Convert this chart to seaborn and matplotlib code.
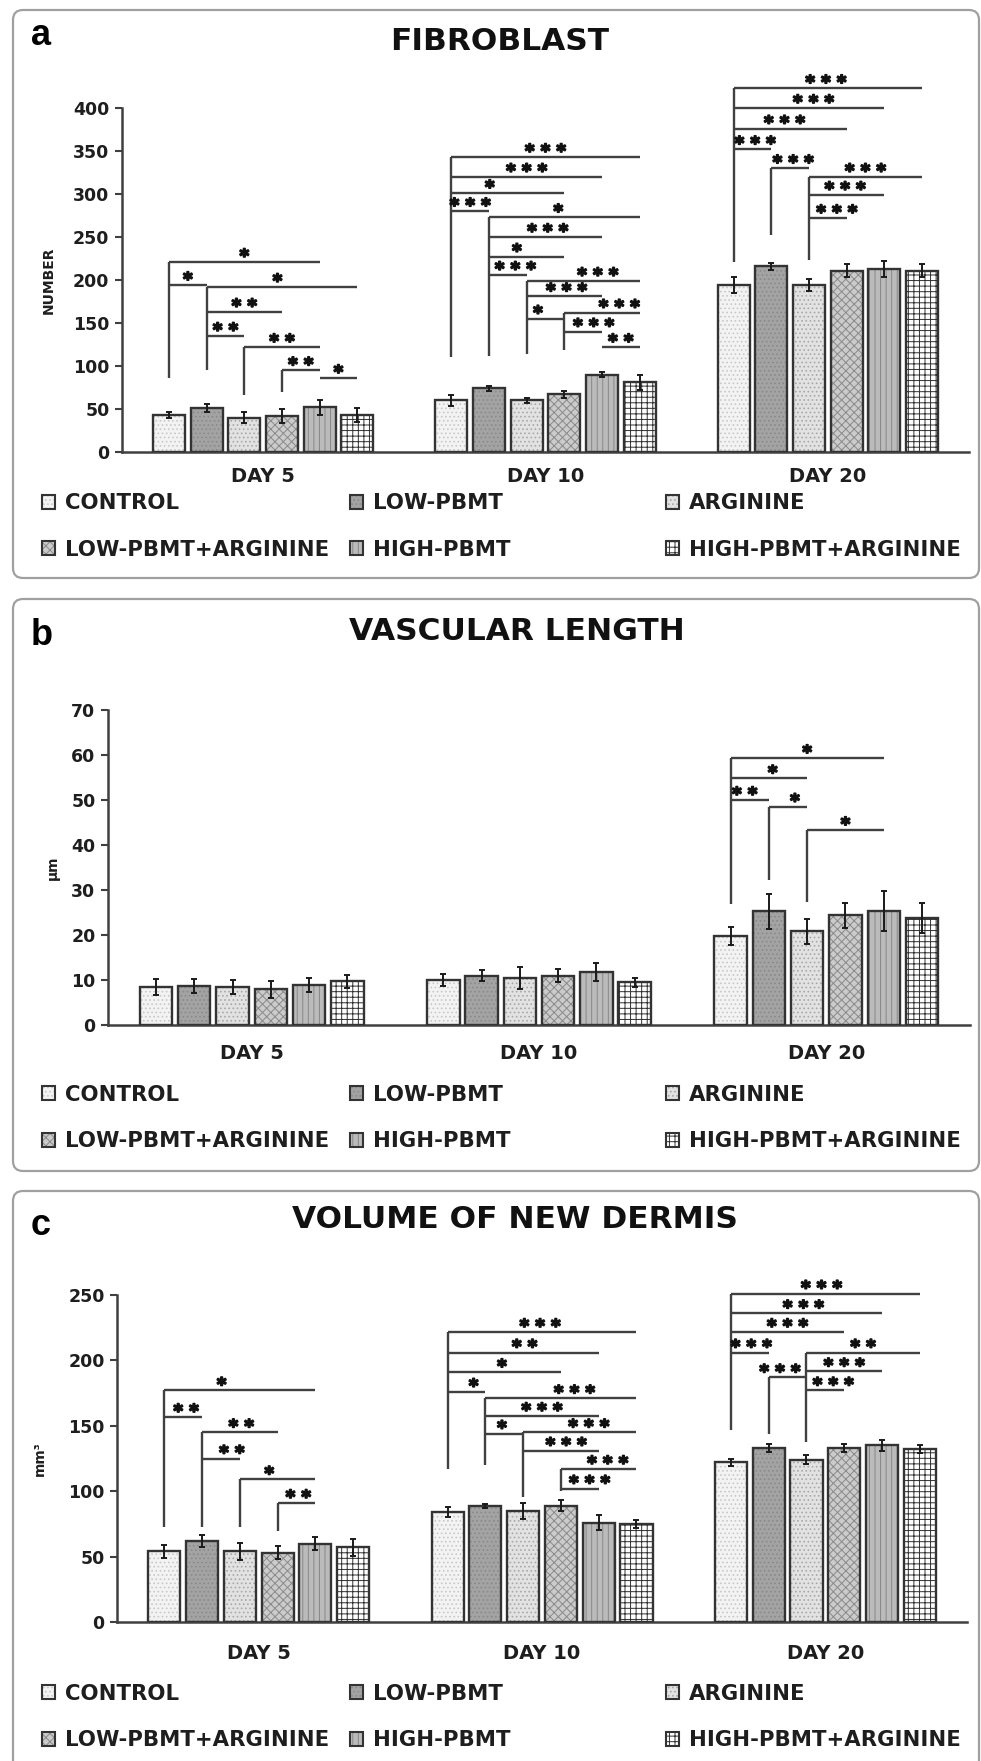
import numpy as np
import pandas as pd
import matplotlib
matplotlib.use("Agg")
import matplotlib.pyplot as plt
import matplotlib.patheffects as pe
import seaborn as sns
from matplotlib.patches import Rectangle, FancyBboxPatch, Patch

# ---------------- data ----------------
days = ["DAY 5", "DAY 10", "DAY 20"]
groups = ["CONTROL", "LOW-PBMT", "ARGININE", "LOW-PBMT+ARGININE", "HIGH-PBMT", "HIGH-PBMT+ARGININE"]

fib_day5 = [43, 51, 40, 42, 52, 43]
fib_day10 = [60, 74, 60, 67, 90, 81]
fib_day20 = [194, 216, 194, 211, 213, 211]
fib_err_day5 = [4, 5, 6, 8, 9, 8]
fib_err_day10 = [6, 3, 3, 4, 3, 9]
fib_err_day20 = [9, 4, 7, 8, 9, 8]

vas_day5 = [8.5, 8.7, 8.4, 7.9, 8.9, 9.7]
vas_day10 = [10.0, 11.0, 10.4, 11.0, 11.7, 9.5]
vas_day20 = [19.8, 25.3, 20.8, 24.4, 25.3, 23.8]
vas_err_day5 = [1.8, 1.5, 1.5, 1.9, 1.5, 1.4]
vas_err_day10 = [1.3, 1.3, 2.5, 1.5, 2.0, 1.0]
vas_err_day20 = [2.0, 3.9, 2.8, 2.8, 4.4, 3.3]

vol_day5 = [54, 62, 54, 53, 60, 57]
vol_day10 = [84, 89, 85, 89, 76, 75]
vol_day20 = [122, 133, 124, 133, 135, 132]
vol_err_day5 = [5, 4.5, 6.4, 5, 5, 6.6]
vol_err_day10 = [4, 1.5, 6, 4, 6, 3]
vol_err_day20 = [2.5, 3, 3.5, 3, 4, 3]

# significance brackets: (day, from_bar, to_bar, height, stars, star position along line)
fib_brackets = [
    (0, 0, 4, 221, "*", 0.5), (0, 0, 1, 194, "*", 0.5), (0, 1, 5, 192, "*", 0.47),
    (0, 1, 3, 163, "**", 0.5), (0, 1, 2, 135, "**", 0.5), (0, 2, 4, 122, "**", 0.5),
    (0, 3, 4, 95, "**", 0.5), (0, 4, 5, 86, "*", 0.5),
    (1, 0, 5, 343, "***", 0.5), (1, 0, 4, 320, "***", 0.5), (1, 0, 3, 301, "*", 0.34),
    (1, 0, 1, 280, "***", 0.5), (1, 1, 5, 273, "*", 0.46), (1, 1, 4, 250, "***", 0.52),
    (1, 1, 3, 227, "*", 0.37), (1, 1, 2, 206, "***", 0.7), (1, 2, 5, 199, "***", 0.63),
    (1, 2, 4, 181, "***", 0.53), (1, 2, 3, 155, "*", 0.3), (1, 3, 5, 162, "***", 0.73),
    (1, 3, 4, 140, "***", 0.78), (1, 4, 5, 122, "**", 0.5),
    (2, 0, 5, 423, "***", 0.49), (2, 0, 4, 400, "***", 0.53), (2, 0, 3, 376, "***", 0.45),
    (2, 0, 1, 352, "***", 0.57), (2, 1, 2, 330, "***", 0.58), (2, 2, 5, 320, "***", 0.5),
    (2, 2, 4, 299, "***", 0.48), (2, 2, 3, 272, "***", 0.74),
]
fib_stems = [(0, 0, 86), (0, 1, 95), (0, 2, 66), (0, 3, 70), (1, 0, 111), (1, 1, 112),
             (1, 2, 114), (1, 3, 119), (2, 0, 221), (2, 1, 252), (2, 2, 223)]

vas_brackets = [(2, 0, 4, 59.3, "*", 0.5), (2, 0, 2, 54.8, "*", 0.55), (2, 0, 1, 50.0, "**", 0.37),
                (2, 1, 2, 48.5, "*", 0.68), (2, 2, 4, 43.3, "*", 0.5)]
vas_stems = [(2, 0, 27.0), (2, 1, 32.2), (2, 2, 27.4)]

vol_brackets = [
    (0, 0, 4, 177, "*", 0.38), (0, 0, 1, 156.7, "**", 0.58), (0, 1, 3, 145, "**", 0.52),
    (0, 1, 2, 125, "**", 0.79), (0, 2, 4, 109, "*", 0.39), (0, 3, 4, 91, "**", 0.55),
    (1, 0, 5, 221.7, "***", 0.49), (1, 0, 4, 206, "**", 0.51), (1, 0, 3, 191, "*", 0.48),
    (1, 0, 1, 176, "*", 0.69), (1, 1, 5, 171, "***", 0.59), (1, 1, 4, 157.5, "***", 0.5),
    (1, 1, 2, 144, "*", 0.44), (1, 2, 5, 145, "***", 0.58), (1, 2, 4, 131, "***", 0.57),
    (1, 3, 5, 117, "***", 0.62), (1, 3, 4, 102, "***", 0.76),
    (2, 0, 5, 251, "***", 0.48), (2, 0, 4, 236, "***", 0.48), (2, 0, 3, 221.7, "***", 0.5),
    (2, 0, 1, 206, "***", 0.54), (2, 1, 2, 187, "***", 0.3), (2, 2, 5, 206, "**", 0.5),
    (2, 2, 4, 191.6, "***", 0.5), (2, 2, 3, 177, "***", 0.71),
]
vol_stems = [(0, 0, 72.6), (0, 1, 72.6), (0, 2, 72.6), (0, 3, 69.6), (1, 0, 117), (1, 1, 120),
             (1, 2, 95.6), (1, 3, 100), (2, 0, 146.5), (2, 1, 144), (2, 2, 137.6)]

fib_yticks = [0, 50, 100, 150, 200, 250, 300, 350, 400]
vas_yticks = [0, 10, 20, 30, 40, 50, 60, 70]
vol_yticks = [0, 50, 100, 150, 200, 250]

# ---------------- style ----------------
sns.set_theme(style="white")
plt.rcParams["font.family"] = ["DejaVu Sans"]
plt.rcParams["font.weight"] = "bold"
plt.rcParams["hatch.linewidth"] = 0.7

face = ["#f3f3f3", "#a3a3a3", "#e2e2e2", "#cbcbcb", "#bbbbbb", "#ffffff"]
hatch = ["....", "....", "....", "xxxx", "|||", "+++"]
hatch_col = ["#c8c8c8", "#8a8a8a", "#a8a8a8", "#8a8a8a", "#878787", "#303030"]
EDGE = "#333333"
LINE = "#404040"
TXT = "#1e1e1e"

W, H = 981, 1761
fig = plt.figure(figsize=(W / 100, H / 100), dpi=100)


def frac_axes(left, top, right, bottom):
    return fig.add_axes([left / W, 1 - bottom / H, (right - left) / W, (bottom - top) / H])


def panel(ax, vals, errs, yticks, ylabel, brackets, stems, ylab_x, day_pad):
    rows = []
    for d, day in enumerate(days):
        for g, grp in enumerate(groups):
            rows.append({"day": day, "group": grp, "value": vals[d][g]})
    df = pd.DataFrame(rows)
    sns.barplot(data=df, x="day", y="value", hue="group", order=days, hue_order=groups,
                palette=face, saturation=1, errorbar=None, width=0.8, gap=0.15,
                legend=False, ax=ax, zorder=2)
    bars = sorted([p for p in ax.patches if isinstance(p, Rectangle)],
                  key=lambda p: p.get_x())
    centers = np.array([p.get_x() + p.get_width() / 2 for p in bars]).reshape(3, 6)
    heights = np.array([p.get_height() for p in bars])
    for k, p in enumerate(bars):
        g = k % 6
        p.set_hatch(hatch[g])
        p.set_edgecolor(hatch_col[g])
        p.set_linewidth(0)
        ax.add_patch(Rectangle((p.get_x(), p.get_y()), p.get_width(), p.get_height(),
                               fill=False, edgecolor=EDGE, linewidth=1.7, zorder=3))
    err_flat = np.array(errs).ravel()
    ax.errorbar(centers.ravel(), heights, yerr=err_flat, fmt="none", ecolor="#1a1a1a",
                elinewidth=1.4, capsize=2, capthick=1.4, zorder=4)
    ax.set_xlim(-0.5, 2.5)
    ax.set_ylim(yticks[0], yticks[-1])
    ax.set_yticks(yticks)
    ax.set_yticklabels([str(t) for t in yticks], fontsize=12.5, fontweight="bold", color=TXT)
    ax.set_xticks(range(3))
    ax.set_xticklabels(days, fontsize=14, fontweight="bold", color=TXT)
    ax.tick_params(axis="x", length=0, pad=day_pad)
    ax.tick_params(axis="y", direction="out", length=5, width=1.5, color=LINE, pad=4, left=True)
    ax.set_xlabel("")
    ax.set_ylabel(ylabel, fontsize=10, fontweight="bold", color=TXT)
    ax.yaxis.set_label_coords(ylab_x, 0.5)
    for s in ["top", "right"]:
        ax.spines[s].set_visible(False)
    for s in ["left", "bottom"]:
        ax.spines[s].set_color(LINE)
        ax.spines[s].set_linewidth(1.8)
    ax.set_facecolor("none")
    # brackets
    tops = {}
    for d, i, j, y, st, f in brackets:
        tops[(d, i)] = max(tops.get((d, i), -1e9), y)
    for d, i, y0 in stems:
        x = centers[d, i]
        ax.plot([x, x], [y0, tops[(d, i)]], color=LINE, lw=1.7, clip_on=False, zorder=5,
                solid_capstyle="butt")
    star_fx = [pe.withStroke(linewidth=1.3, foreground="#111")]
    for d, i, j, y, st, f in brackets:
        x0, x1 = centers[d, i], centers[d, j]
        ax.plot([x0, x1], [y, y], color=LINE, lw=1.7, clip_on=False, zorder=5,
                solid_capstyle="butt")
        ax.annotate(" ".join(st), xy=(x0 + f * (x1 - x0), y), xytext=(0, 0),
                    textcoords="offset points", ha="center", va="baseline", fontsize=13,
                    fontweight="bold", color="#111", annotation_clip=False, zorder=6,
                    path_effects=star_fx)
    return ax


def legend_block(y1, y2):
    handles = []
    for g in range(6):
        h1 = Patch(facecolor=face[g], edgecolor=hatch_col[g], hatch=hatch[g], linewidth=0)
        h2 = Patch(facecolor="none", edgecolor=EDGE, linewidth=1.5)
        handles.append((h1, h2))
    cols_x = [42, 350, 666]
    cols = [(0, 3), (1, 4), (2, 5)]
    for cx, (a, b) in zip(cols_x, cols):
        leg = fig.legend([handles[a], handles[b]], [groups[a], groups[b]],
                         loc="center left", bbox_to_anchor=(cx / W, 1 - (y1 + y2) / 2 / H),
                         frameon=False, handlelength=0.62, handleheight=0.62,
                         handletextpad=0.45, borderpad=0, borderaxespad=0, labelspacing=1.25,
                         prop={"weight": "bold", "size": 15.3})
        for t in leg.get_texts():
            t.set_color(TXT)


def box(top, bottom):
    fig.add_artist(FancyBboxPatch((13, H - bottom), 966, bottom - top,
                                  boxstyle="round,pad=0,rounding_size=10",
                                  transform=None, facecolor="none", edgecolor="#a0a0a0",
                                  linewidth=1.6, zorder=0))


def panel_title(text, xc, yc, letter, ybase):
    fig.text(xc / W, 1 - yc / H, text, ha="center", va="center", fontsize=22.5,
             fontweight="bold", color="#111")
    fig.text(31 / W, 1 - ybase / H, letter, ha="left", va="baseline", fontsize=26,
             fontweight="bold", family="Liberation Sans", color="#000")


# ---------------- panel a ----------------
box(10, 578)
ax_a = frac_axes(122, 108, 969, 452)
panel(ax_a, [fib_day5, fib_day10, fib_day20], [fib_err_day5, fib_err_day10, fib_err_day20],
      fib_yticks, "NUMBER", fib_brackets, fib_stems, -0.078, 11)
panel_title("FIBROBLAST", 500, 42, "a", 45)
legend_block(503, 550)

# ---------------- panel b ----------------
box(599, 1171)
ax_b = frac_axes(108, 710, 970, 1025)
panel(ax_b, [vas_day5, vas_day10, vas_day20], [vas_err_day5, vas_err_day10, vas_err_day20],
      vas_yticks, "µm", vas_brackets, vas_stems, -0.056, 14)
panel_title("VASCULAR LENGTH", 517, 631, "b", 645)
legend_block(1094, 1142)

# ---------------- panel c ----------------
box(1191, 1775)
ax_c = frac_axes(117, 1295, 967, 1622)
panel(ax_c, [vol_day5, vol_day10, vol_day20], [vol_err_day5, vol_err_day10, vol_err_day20],
      vol_yticks, "mm³", vol_brackets, vol_stems, -0.083, 16)
panel_title("VOLUME OF NEW DERMIS", 515, 1220, "c", 1235)
legend_block(1693, 1741)

fig.savefig("out.png", dpi=100, facecolor="white")
